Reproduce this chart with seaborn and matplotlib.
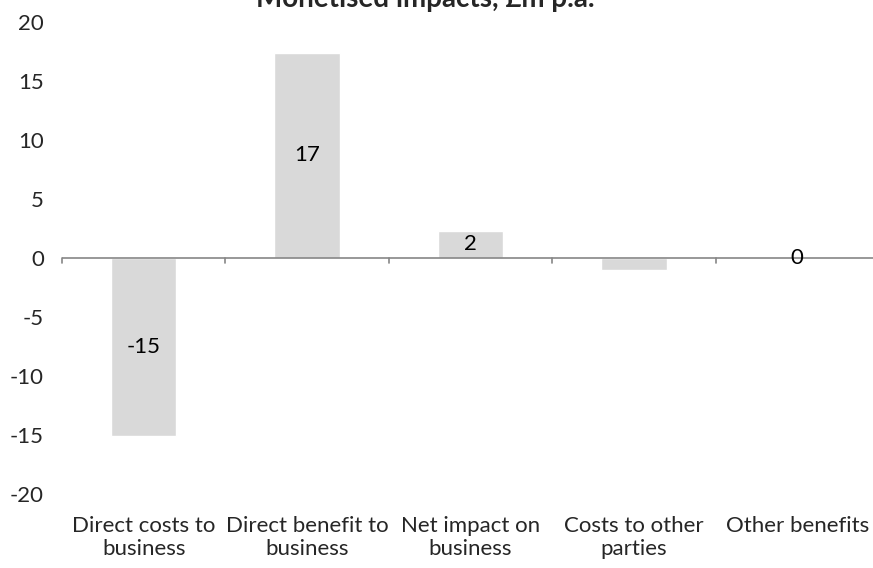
# Bar chart of monetised impacts (£m p.a.)

import matplotlib

matplotlib.use("Agg")

import matplotlib.pyplot as plt
import pandas as pd
import seaborn as sns

categories = [
    "Direct costs to\nbusiness",
    "Direct benefit to\nbusiness",
    "Net impact on\nbusiness",
    "Costs to other\nparties",
    "Other benefits",
]
values = [-15.1, 17.4, 2.3, -1.0, 0.0]
bar_labels = ["-15", "17", "2", "", "0"]
y_ticks = [-20, -15, -10, -5, 0, 5, 10, 15, 20]

sns.set_style("white")
plt.rcParams["font.family"] = ["Lato", "DejaVu Sans"]

df = pd.DataFrame({"category": categories, "value": values})

fig = plt.figure(figsize=(8.73, 5.68), dpi=100)
# plot area runs a little past the right edge, like the reference
ax = fig.add_axes([62 / 873, 74 / 568, 817 / 873, 472 / 568])

sns.barplot(data=df, x="category", y="value", color="#d9d9d9", width=0.4,
            saturation=1, ax=ax)

ax.set_ylim(-20, 20)
ax.set_xlim(-0.5, len(categories) - 0.5)
ax.set_yticks(y_ticks)
ax.set_yticklabels([str(t) for t in y_ticks], fontsize=16)
ax.set_xlabel("")
ax.set_ylabel("")

for s in ["top", "right", "left", "bottom"]:
    ax.spines[s].set_visible(False)

# horizontal axis line at zero with small ticks between categories
ax.axhline(0, color="#868686", linewidth=1.2, zorder=3)
for b in range(len(categories) + 1):
    ax.plot([b - 0.5, b - 0.5], [0, -0.45], color="#868686", linewidth=1.2,
            zorder=3, clip_on=False)

ax.tick_params(axis="y", length=0, pad=13)
ax.tick_params(axis="x", length=0, pad=16)
ax.set_xticks(range(len(categories)))
ax.set_xticklabels(categories, fontsize=16, linespacing=1.15)

for i, (v, lab) in enumerate(zip(values, bar_labels)):
    if lab:
        ax.text(i, v / 2, lab, ha="center", va="center", fontsize=16,
                color="black", zorder=4)

# title sits mostly above the visible canvas in the reference
fig.text(425 / 873, 1 - 7 / 568, "Monetised impacts, £m p.a.", ha="center",
         va="baseline", fontsize=20, fontweight="bold")

fig.savefig("out.png", dpi=100)
